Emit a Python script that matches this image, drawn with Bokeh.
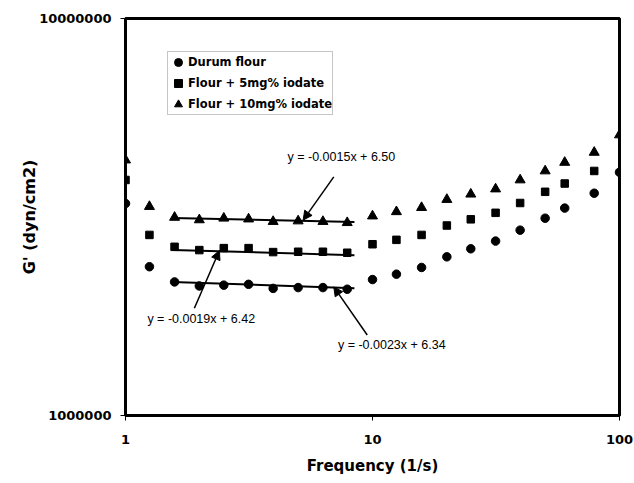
import math
from bokeh.plotting import figure
from bokeh.models import (Arrow, NormalHead, Legend, LegendItem, FixedTicker,
                          PrintfTickFormatter, Label, ColumnDataSource)
from bokeh.embed import file_html
from bokeh.resources import INLINE

# ---- data ----
freq = [1, 1.25, 1.58, 1.99, 2.5, 3.15, 3.96, 5.0, 6.3, 7.9, 10,
        12.5, 15.8, 20, 25, 31.5, 39.6, 50, 60, 79, 100]
durum = [3.42e6, 2.37e6, 2.17e6, 2.12e6, 2.13e6, 2.14e6, 2.09e6, 2.10e6, 2.10e6, 2.08e6, 2.20e6,
         2.27e6, 2.36e6, 2.51e6, 2.63e6, 2.75e6, 2.93e6, 3.14e6, 3.33e6, 3.63e6, 4.10e6]
iodate5 = [3.92e6, 2.85e6, 2.66e6, 2.61e6, 2.64e6, 2.64e6, 2.58e6, 2.585e6, 2.585e6, 2.57e6, 2.70e6,
           2.77e6, 2.85e6, 3.01e6, 3.12e6, 3.24e6, 3.43e6, 3.66e6, 3.84e6, 4.13e6, float("nan")]
iodate10 = [4.40e6, 3.36e6, 3.155e6, 3.11e6, 3.14e6, 3.125e6, 3.08e6, 3.09e6, 3.08e6, 3.06e6, 3.18e6,
            3.26e6, 3.34e6, 3.50e6, 3.61e6, 3.72e6, 3.92e6, 4.13e6, 4.34e6, 4.60e6, 5.09e6]
series_names = ["Durum flour", "Flour + 5mg% iodate", "Flour + 10mg% iodate"]

# linear fits (log10 G' = slope * f + intercept), as printed on the chart
fit_slopes = [-0.0023, -0.0019, -0.0015]
fit_intercepts = [6.34, 6.42, 6.50]
fit_labels = ["y = -0.0023x + 6.34", "y = -0.0019x + 6.42", "y = -0.0015x + 6.50"]
fit_range = [1.55, 8.45]

x_ticks = [1, 10, 100]
y_ticks = [1e6, 1e7]

# annotation placement (data units): text centre, arrow start, arrow tip frequency
label_pos = [(11.97, 1.506e6), (2.026, 1.75e6), (7.48, 4.48e6)]
arrow_start = [(9.52, 1.595e6), (1.90, 1.862e6), (6.97, 3.99e6)]
arrow_tip_f = [6.97, 2.40, 5.24]

BOLD = "DejaVu Sans"

p = figure(width=634, height=483, x_axis_type="log", y_axis_type="log",
           x_range=(1, 100), y_range=(1e6, 1e7),
           output_backend="svg", toolbar_location=None,
           min_border_left=125, min_border_right=15,
           min_border_top=18, min_border_bottom=68,
           background_fill_color="white", border_fill_color="white")

p.xgrid.visible = False
p.ygrid.visible = False
p.outline_line_color = "black"
p.outline_line_width = 3

for ax in (p.xaxis[0], p.yaxis[0]):
    ax.axis_line_color = "black"
    ax.axis_line_width = 2
    ax.major_tick_in = 0
    ax.major_tick_out = 5
    ax.major_tick_line_color = "black"
    ax.minor_tick_line_color = None
    ax.major_label_text_font = BOLD
    ax.major_label_text_font_style = "bold"
    ax.major_label_text_font_size = "13px"
    ax.major_label_text_color = "black"
    ax.axis_label_text_font = BOLD
    ax.axis_label_text_font_style = "bold"
    ax.axis_label_text_color = "black"
    ax.formatter = PrintfTickFormatter(format="%d")

p.xaxis.ticker = FixedTicker(ticks=x_ticks)
p.yaxis.ticker = FixedTicker(ticks=y_ticks)
p.xaxis.major_label_standoff = 14
p.yaxis.major_label_standoff = 9
p.xaxis.axis_label = "Frequency (1/s)"
p.xaxis.axis_label_text_font_size = "15px"
p.xaxis.axis_label_standoff = 10
p.yaxis.axis_label = "G' (dyn/cm2)"
p.yaxis.axis_label_text_font_size = "16px"
p.yaxis.axis_label_standoff = -3

# fitted lines
for s, b in zip(fit_slopes, fit_intercepts):
    ys = [10 ** (b + s * f) for f in fit_range]
    p.line(fit_range, ys, line_color="black", line_width=2)

src = ColumnDataSource(dict(f=freq, d=durum, i5=iodate5, i10=iodate10))
r1 = p.scatter("f", "d", source=src, marker="circle", size=8.5, color="black")
r2 = p.scatter("f", "i5", source=src, marker="square", size=7.5, color="black")
r3 = p.scatter("f", "i10", source=src, marker="triangle", size=10, color="black")

legend = Legend(items=[LegendItem(label=series_names[0], renderers=[r1]),
                       LegendItem(label=series_names[1], renderers=[r2]),
                       LegendItem(label=series_names[2], renderers=[r3])],
                location=(42, 300), padding=0, spacing=1, margin=0,
                glyph_width=20, glyph_height=20, label_height=20, label_standoff=0,
                label_text_font=BOLD, label_text_font_style="bold",
                label_text_font_size="11.5px", label_text_color="black",
                border_line_color="#8c8c8c", border_line_width=1,
                background_fill_color="white", background_fill_alpha=1)
p.add_layout(legend)

# equation labels and arrows
for (lx, ly), (sx, sy), tf, s, b, txt in zip(label_pos, arrow_start, arrow_tip_f,
                                               fit_slopes, fit_intercepts, fit_labels):
    p.add_layout(Label(x=lx, y=ly, text=txt, text_align="center", text_baseline="middle",
                       text_font="Liberation Sans", text_font_size="12.5px", text_color="black"))
    p.add_layout(Arrow(x_start=sx, y_start=sy, x_end=tf, y_end=10 ** (b + s * tf),
                       line_color="black", line_width=1.5,
                       end=NormalHead(size=9, fill_color="black", line_color="black", line_width=1)))

open("out.html", "w").write(file_html(p, INLINE))
